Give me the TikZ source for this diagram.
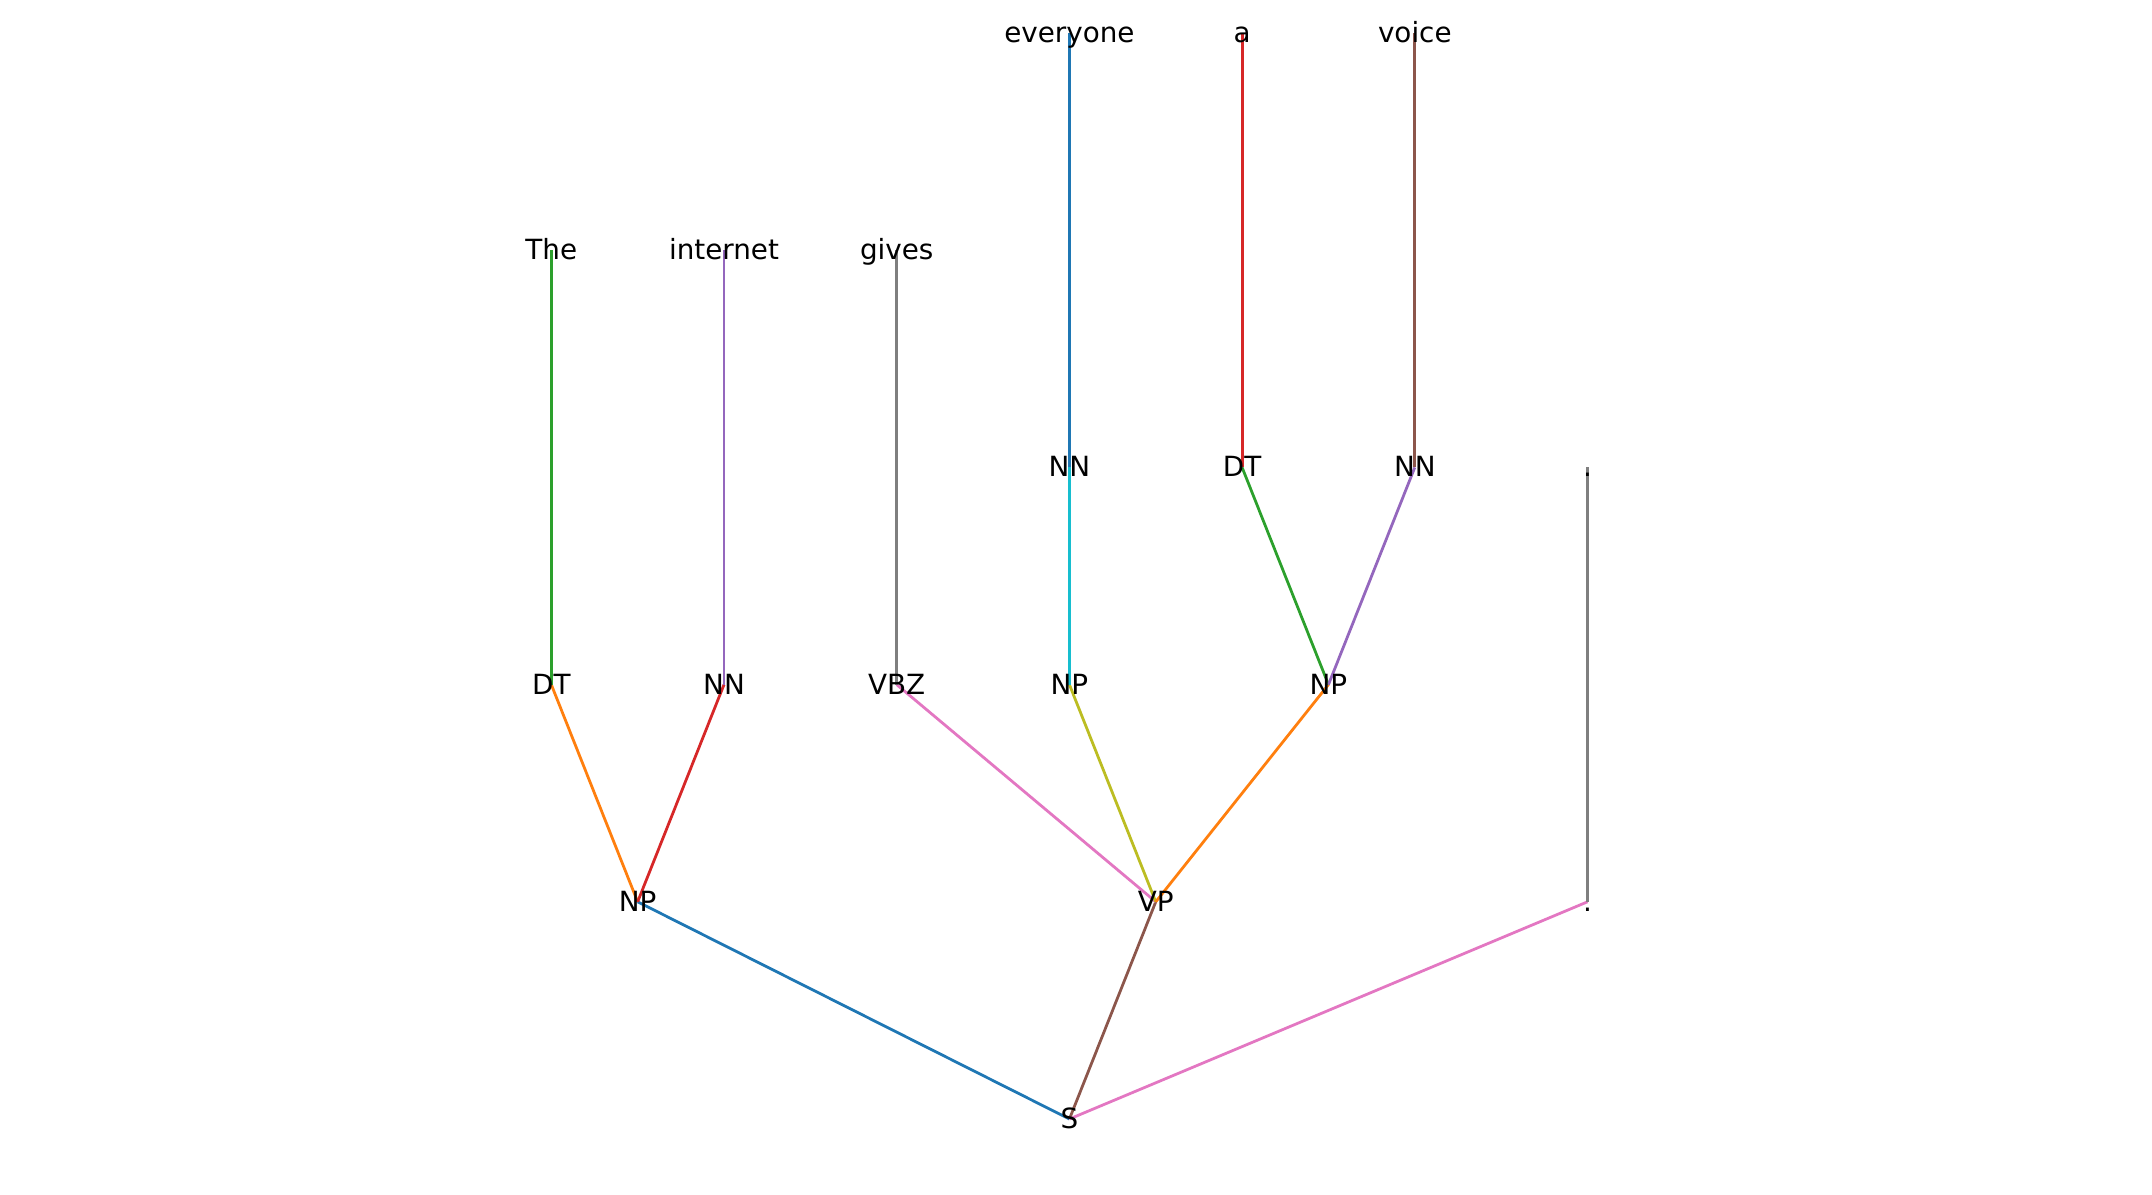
\documentclass[tikz,border=0pt]{standalone}
\usepackage{fontspec}
\setmainfont{DejaVu Sans}
\definecolor{tblue}{HTML}{1F77B4}
\definecolor{torange}{HTML}{FF7F0E}
\definecolor{tgreen}{HTML}{2CA02C}
\definecolor{tred}{HTML}{D62728}
\definecolor{tpurple}{HTML}{9467BD}
\definecolor{tbrown}{HTML}{8C564B}
\definecolor{tpink}{HTML}{E377C2}
\definecolor{tgray}{HTML}{7F7F7F}
\definecolor{tolive}{HTML}{BCBD22}
\definecolor{tcyan}{HTML}{17BECF}
\begin{document}
\begin{tikzpicture}[x=0.5pt,y=-0.5pt,
  lbl/.style={inner sep=0pt,anchor=mid,yshift=-2pt,font=\fontsize{13.9}{16}\selectfont,text=black},
  edge/.style={line width=1.39pt}]
\useasboundingbox (0,0) rectangle (2152,1194);
% levels
\def\La{1119}\def\Lb{901.8}\def\Lc{684.6}\def\Ld{467.4}\def\Le{250.2}\def\Lf{33}
% positions
\coordinate (S) at (1069.4,\La);
\coordinate (NPa) at (637.65,\Lb);
\coordinate (VP) at (1155.75,\Lb);
\coordinate (PT) at (1587.5,\Lb);
\coordinate (DTa) at (551.3,\Lc);
\coordinate (NNa) at (724.0,\Lc);
\coordinate (VBZ) at (896.7,\Lc);
\coordinate (NPb) at (1069.4,\Lc);
\coordinate (NPc) at (1328.45,\Lc);
\coordinate (NNb) at (1069.4,\Ld);
\coordinate (DTb) at (1242.1,\Ld);
\coordinate (NNc) at (1414.8,\Ld);
\coordinate (PW) at (1587.5,\Ld);
\coordinate (wThe) at (551.3,\Le);
\coordinate (wInt) at (724.0,\Le);
\coordinate (wGiv) at (896.7,\Le);
\coordinate (wEve) at (1069.4,\Lf);
\coordinate (wA) at (1242.1,\Lf);
\coordinate (wVoi) at (1414.8,\Lf);
% edges
\draw[edge,tblue] (S) -- (NPa);
\draw[edge,tbrown] (S) -- (VP);
\draw[edge,tpink] (S) -- (PT);
\draw[edge,torange] (NPa) -- (DTa);
\draw[edge,tred] (NPa) -- (NNa);
\draw[edge,tgreen] (DTa) -- (wThe);
\draw[edge,tpurple] (NNa) -- (wInt);
\draw[edge,tpink] (VP) -- (VBZ);
\draw[edge,tolive] (VP) -- (NPb);
\draw[edge,torange] (VP) -- (NPc);
\draw[edge,tgray] (VBZ) -- (wGiv);
\draw[edge,tcyan] (NPb) -- (NNb);
\draw[edge,tblue] (NNb) -- (wEve);
\draw[edge,tgreen] (NPc) -- (DTb);
\draw[edge,tpurple] (NPc) -- (NNc);
\draw[edge,tred] (DTb) -- (wA);
\draw[edge,tbrown] (NNc) -- (wVoi);
\draw[edge,tgray] (PT) -- (PW);
% labels
\node[lbl] (lS) at (S) {S};
\node[lbl] (lNPa) at (NPa) {NP};
\node[lbl] (lVP) at (VP) {VP};
\node[lbl] (lPT) at (PT) {.};
\node[lbl] (lDTa) at (DTa) {DT};
\node[lbl] (lNNa) at (NNa) {NN};
\node[lbl] (lVBZ) at (VBZ) {VBZ};
\node[lbl] (lNPb) at (NPb) {NP};
\node[lbl] (lNPc) at (NPc) {NP};
\node[lbl] (lNNb) at (NNb) {NN};
\node[lbl] (lDTb) at (DTb) {DT};
\node[lbl] (lNNc) at (NNc) {NN};
\node[lbl] (lPW) at (PW) {.};
\node[lbl] (lThe) at (wThe) {The};
\node[lbl] (lInt) at (wInt) {internet};
\node[lbl] (lGiv) at (wGiv) {gives};
\node[lbl] (lEve) at (wEve) {everyone};
\node[lbl] (lA) at (wA) {a};
\node[lbl] (lVoi) at (wVoi) {voice};
\end{tikzpicture}
\end{document}
